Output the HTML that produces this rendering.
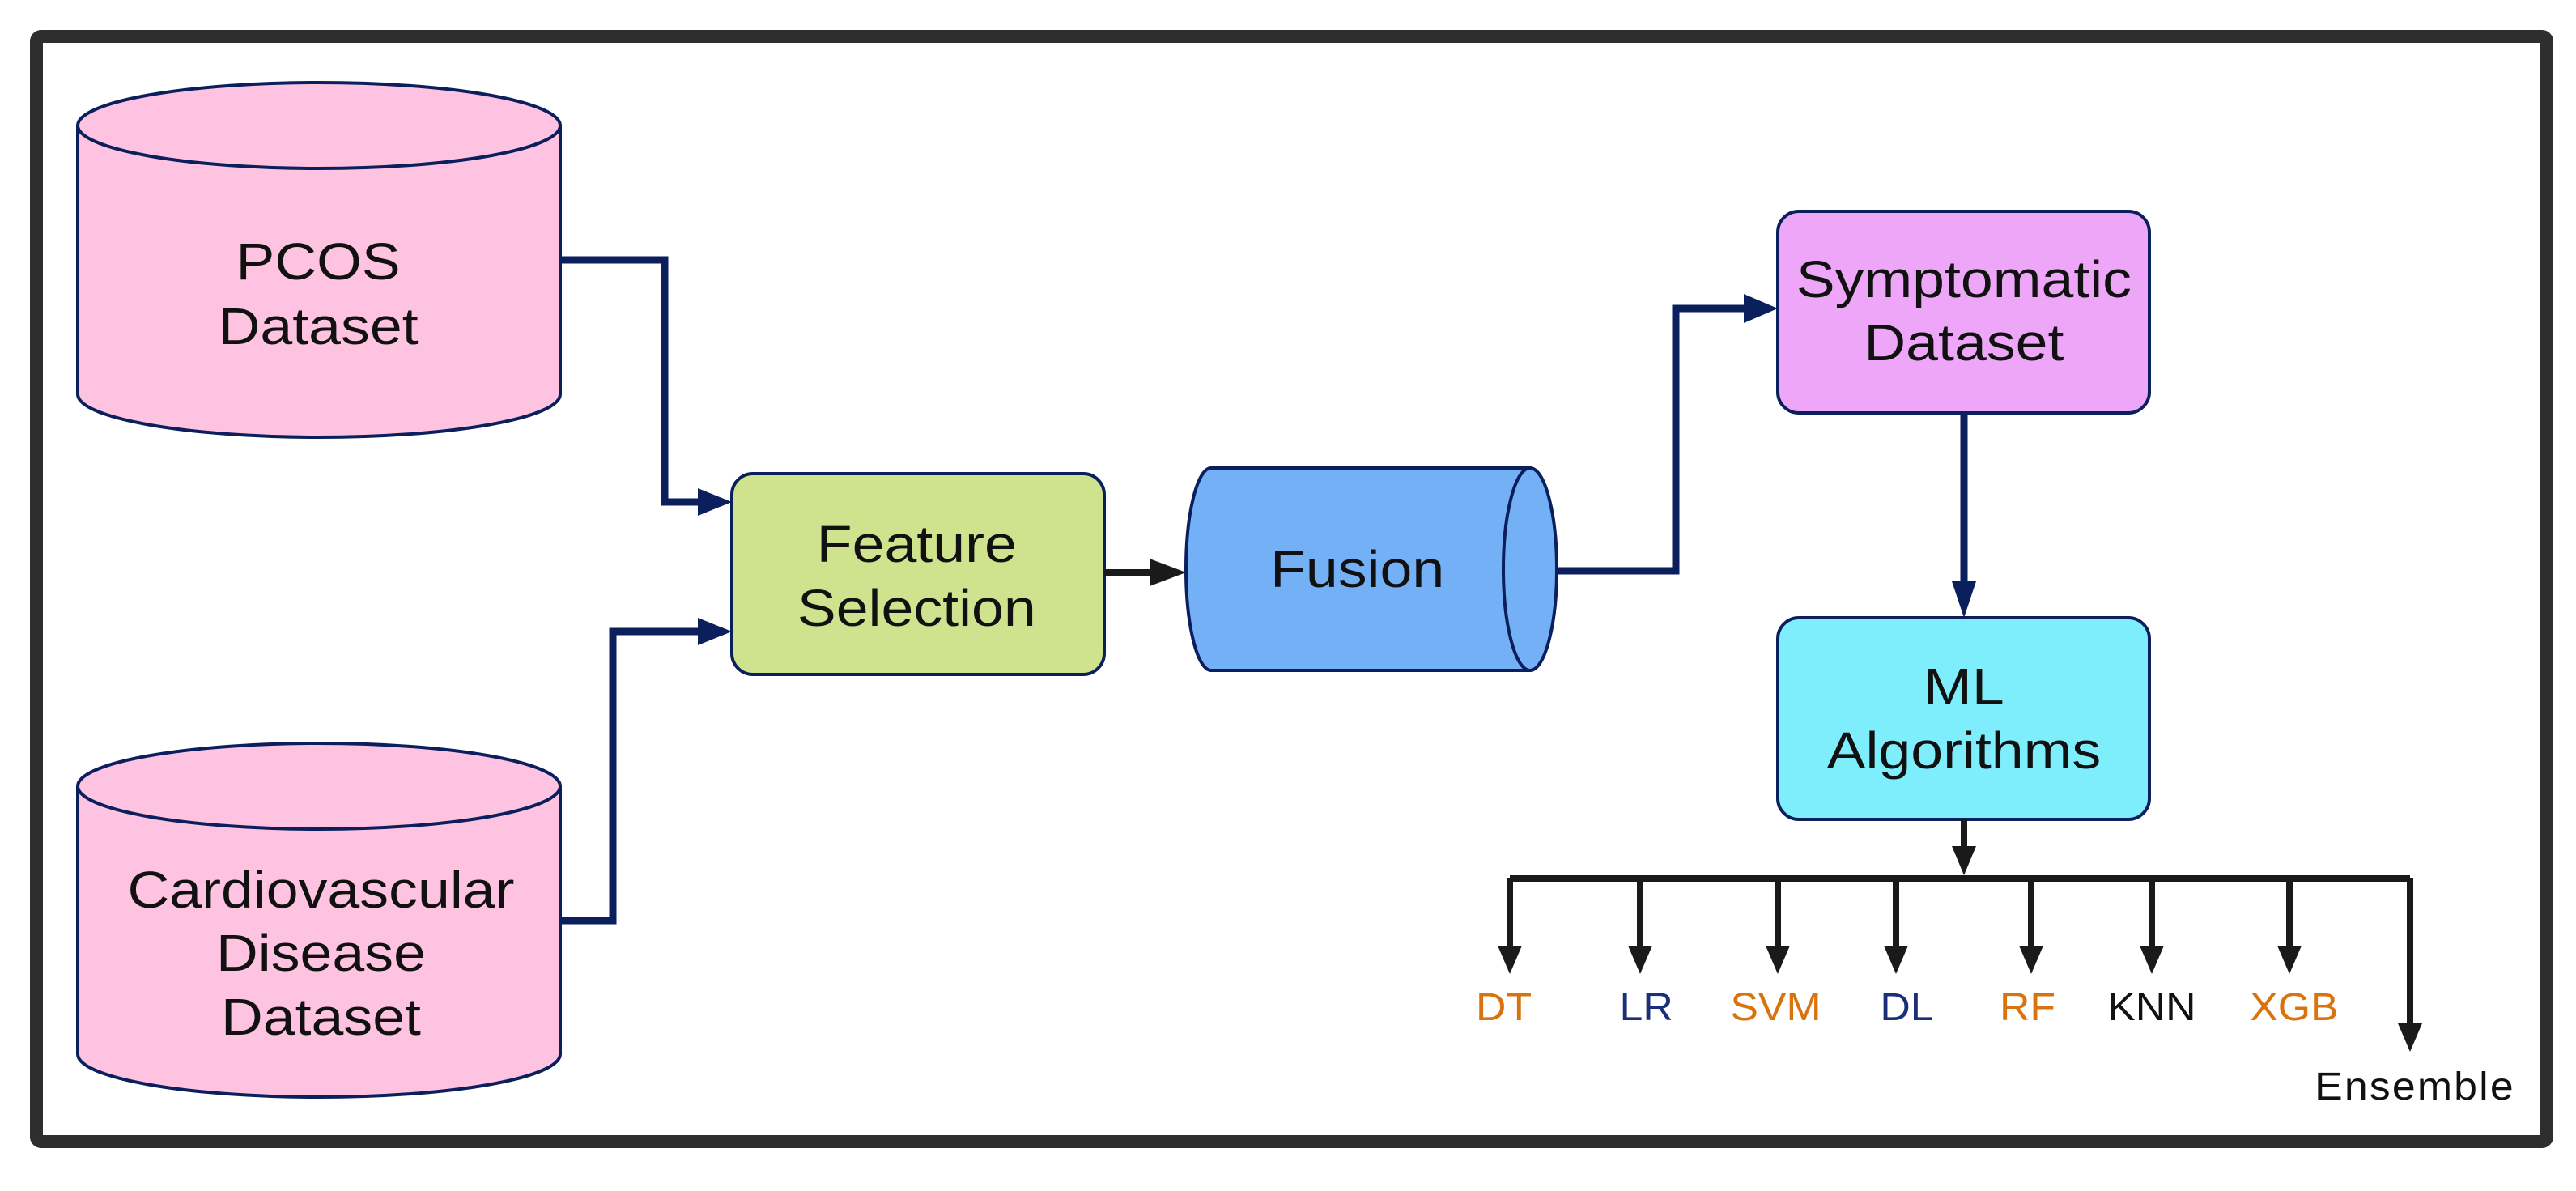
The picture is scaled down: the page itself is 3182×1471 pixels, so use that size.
<!DOCTYPE html>
<html><head><style>html,body{margin:0;padding:0;background:#fff}svg{display:block}</style></head>
<body>
<svg width="3182" height="1471" viewBox="0 0 3182 1471" xmlns="http://www.w3.org/2000/svg" font-family="Liberation Sans, Arial, sans-serif">
<defs>
<marker id="an" markerWidth="10" markerHeight="10" refX="9" refY="5" orient="auto" markerUnits="userSpaceOnUse" viewBox="0 0 10 10"><path d="M0,0 L10,5 L0,10 z" fill="#0a1f5c"/></marker>
</defs>
<rect x="45" y="45" width="3101" height="1365" rx="6" fill="#fff" stroke="#2e2e2e" stroke-width="16"/>

<!-- PCOS cylinder -->
<path d="M96,155 L96,487 A298,53 0 0 0 692,487 L692,155" fill="#fdc3e0" stroke="#0a1f5c" stroke-width="4"/>
<ellipse cx="394" cy="155" rx="298" ry="53" fill="#fdc3e0" stroke="#0a1f5c" stroke-width="4"/>
<!-- CVD cylinder -->
<path d="M96,971 L96,1302 A298,53 0 0 0 692,1302 L692,971" fill="#fdc3e0" stroke="#0a1f5c" stroke-width="4"/>
<ellipse cx="394" cy="971" rx="298" ry="53" fill="#fdc3e0" stroke="#0a1f5c" stroke-width="4"/>

<!-- Feature selection -->
<rect x="904" y="585" width="460" height="248" rx="26" fill="#cfe38f" stroke="#0a1f5c" stroke-width="4"/>

<!-- Fusion -->
<path d="M1496,578 L1890,578 L1890,828 L1496,828 A31,125 0 0 1 1496,578 z" fill="#74b0f5" stroke="#0a1f5c" stroke-width="4"/>
<ellipse cx="1890" cy="703" rx="33" ry="125" fill="#74b0f5" stroke="#0a1f5c" stroke-width="4"/>

<!-- Symptomatic -->
<rect x="2196" y="261" width="459" height="249" rx="26" fill="#eea6f8" stroke="#0a1f5c" stroke-width="4"/>
<!-- ML -->
<rect x="2196" y="763" width="459" height="249" rx="26" fill="#7eeefc" stroke="#0a1f5c" stroke-width="4"/>

<!-- navy connectors -->
<g fill="none" stroke="#0a1f5c" stroke-width="9">
<polyline points="692,321 821,321 821,620 870,620"/>
<polyline points="692,1137 757,1137 757,780 870,780"/>
<polyline points="1925,705 2070,705 2070,381 2160,381"/>
<line x1="2426" y1="510" x2="2426" y2="725"/>
</g>
<g fill="#0a1f5c">
<path d="M862,603 L904,620 L862,637 z"/>
<path d="M862,763 L904,780 L862,797 z"/>
<path d="M2154,363 L2196,381 L2154,399 z"/>
<path d="M2411,718 L2441,718 L2426,763 z"/>
</g>

<!-- black connectors -->
<g fill="none" stroke="#1a1a1a" stroke-width="8">
<line x1="1364" y1="707" x2="1430" y2="707"/>
<line x1="2426" y1="1012" x2="2426" y2="1050"/>
<line x1="1865" y1="1085" x2="2977" y2="1085"/>
<line x1="1865" y1="1085" x2="1865" y2="1175"/>
<line x1="2026" y1="1085" x2="2026" y2="1175"/>
<line x1="2196" y1="1085" x2="2196" y2="1175"/>
<line x1="2342" y1="1085" x2="2342" y2="1175"/>
<line x1="2509" y1="1085" x2="2509" y2="1175"/>
<line x1="2658" y1="1085" x2="2658" y2="1175"/>
<line x1="2828" y1="1085" x2="2828" y2="1175"/>
<line x1="2977" y1="1085" x2="2977" y2="1270"/>
</g>
<g fill="#1a1a1a">
<path d="M1420,690 L1465,707 L1420,724 z"/>
<path d="M2411,1045 L2441,1045 L2426,1081 z"/>
<path d="M1850,1168 L1880,1168 L1865,1203 z"/>
<path d="M2011,1168 L2041,1168 L2026,1203 z"/>
<path d="M2181,1168 L2211,1168 L2196,1203 z"/>
<path d="M2327,1168 L2357,1168 L2342,1203 z"/>
<path d="M2494,1168 L2524,1168 L2509,1203 z"/>
<path d="M2643,1168 L2673,1168 L2658,1203 z"/>
<path d="M2813,1168 L2843,1168 L2828,1203 z"/>
<path d="M2962,1264 L2992,1264 L2977,1299 z"/>
</g>

<!-- main text (stretched horizontally) -->
<g transform="scale(1.12,1)" font-size="64" fill="#111" text-anchor="middle">
<text x="351" y="345">PCOS</text>
<text x="351" y="425">Dataset</text>
<text x="354" y="1121">Cardiovascular</text>
<text x="354" y="1199">Disease</text>
<text x="354" y="1278">Dataset</text>
<text x="1011" y="694">Feature</text>
<text x="1011" y="773">Selection</text>
<text x="1497" y="725">Fusion</text>
<text x="2166" y="367">Symptomatic</text>
<text x="2166" y="445">Dataset</text>
<text x="2166" y="870">ML</text>
<text x="2166" y="949">Algorithms</text>
</g>
<g transform="scale(1.08,1)" font-size="48" text-anchor="middle">
<text x="1720" y="1260" fill="#d9730d">DT</text>
<text x="1883" y="1260" fill="#1a2e7a">LR</text>
<text x="2031" y="1260" fill="#d9730d">SVM</text>
<text x="2181" y="1260" fill="#1a2e7a">DL</text>
<text x="2319" y="1260" fill="#d9730d">RF</text>
<text x="2461" y="1260" fill="#111">KNN</text>
<text x="2624" y="1260" fill="#d9730d">XGB</text>
<text x="2762" y="1358" fill="#111" letter-spacing="2">Ensemble</text>
</g>
</svg>
</body></html>
